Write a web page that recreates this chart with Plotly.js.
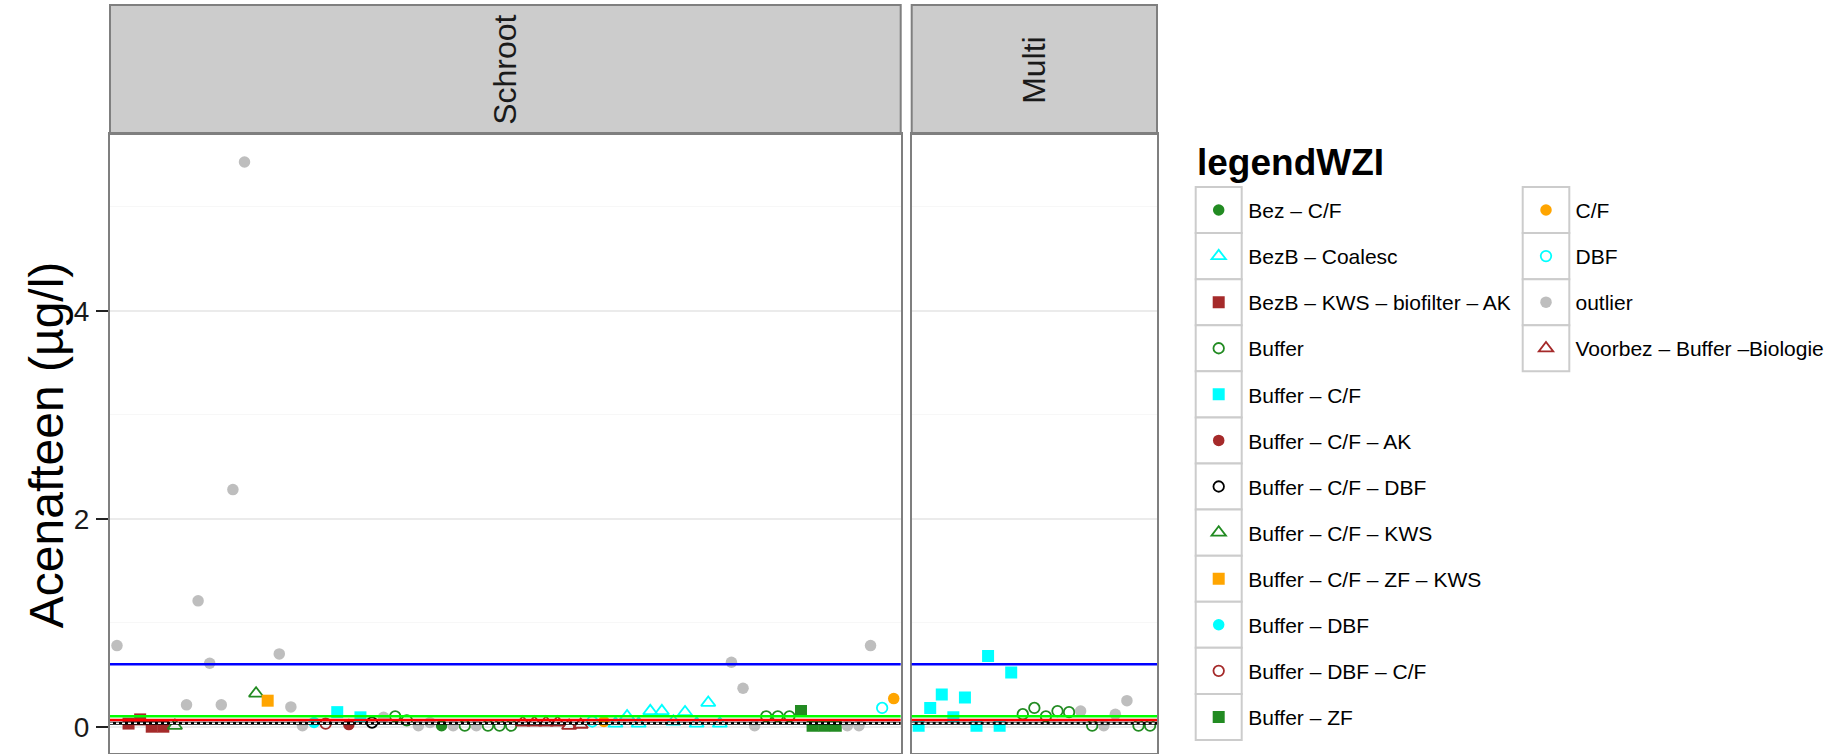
<!DOCTYPE html>
<html>
<head>
<meta charset="utf-8">
<script src="https://cdn.plot.ly/plotly-3.0.1.min.js"></script>
<style>
  html, body { margin: 0; padding: 0; background: #ffffff; }
  #chart { width: 1832px; height: 754px; }
</style>
</head>
<body>
<div id="chart"></div>
<script>
// ---------------- DATA ----------------
const legendTitle = 'legendWZI';
const legendNames = [
  'Bez – C/F', 'BezB – Coalesc', 'BezB – KWS – biofilter – AK', 'Buffer',
  'Buffer – C/F', 'Buffer – C/F – AK', 'Buffer – C/F – DBF', 'Buffer – C/F – KWS',
  'Buffer – C/F – ZF – KWS', 'Buffer – DBF', 'Buffer – DBF – C/F', 'Buffer – ZF',
  'C/F', 'DBF', 'outlier', 'Voorbez – Buffer –Biologie'
];
const legendColors = [
  '#228B22', '#00FFFF', '#A52A2A', '#228B22',
  '#00FFFF', '#A52A2A', '#000000', '#228B22',
  '#FFA500', '#00FFFF', '#A52A2A', '#228B22',
  '#FFA500', '#00FFFF', '#BEBEBE', '#A52A2A'
];
const legendSymbols = [
  'circle', 'triangle-up-open', 'square', 'circle-open',
  'square', 'circle', 'circle-open', 'triangle-up-open',
  'square', 'circle', 'circle-open', 'square',
  'circle', 'circle-open', 'circle', 'triangle-up-open'
];

const facetNames = ['Schroot', 'Multi'];

// Schroot facet: sample position, Acenafteen value (µg/l), legend group (index in legendNames)
const schrootIdx = [1,2,3,4,5,6,7,8,9,10,11,12,13,14,15,16,17,18,19,20,21,22,23,24,25,26,27,28,29,30,31,32,33,34,
  35,36,37,38,39,40,41,42,43,44,45,46,47,48,49,50,51,52,53,54,55,56,57,58,59,60,61,62,63,64,65,66,67,68];
const schrootVal = [0.78,0.03,0.07,0.00,0.00,0.01,0.21,1.21,0.61,0.21,2.28,5.43,0.32,0.25,0.70,0.19,0.01,0.04,0.03,0.14,
  0.02,0.09,0.04,0.09,0.10,0.06,0.01,0.04,0.01,0.01,0.01,0.01,0.01,0.01,0.01,0.04,0.04,0.04,0.04,0.01,
  0.02,0.05,0.05,0.03,0.10,0.03,0.15,0.15,0.05,0.14,0.03,0.23,0.03,0.62,0.37,0.01,0.10,0.10,0.10,0.15,
  0.01,0.01,0.01,0.01,0.01,0.78,0.18,0.27];
const schrootGrp = [14,2,2,2,2,7,14,14,14,14,14,14,7,8,14,14,14,9,10,4,
  5,4,6,14,3,3,14,14,0,14,3,14,3,3,3,15,15,15,15,15,
  15,13,12,1,1,1,1,1,1,1,1,1,1,14,14,14,3,3,3,11,
  11,11,11,14,14,14,13,12];

// Multi facet
const multiIdx = [1,2,3,4,5,6,7,8,9,10,11,12,13,14,15,16,17,18,19,20,21];
const multiVal = [0.01,0.18,0.31,0.09,0.28,0.01,0.68,0.01,0.52,0.12,0.18,0.10,0.15,0.14,0.15,0.01,0.01,0.12,0.25,0.01,0.01];
const multiGrp = [4,4,4,4,4,4,4,4,4,3,3,3,3,3,14,3,14,14,14,3,3];

// Reference lines (µg/l)
const refLineVals = [0.6, 0.1, 0.065, 0.033];
const refLineColors = ['#0000FF', '#00FF00', '#FF0000', '#000000'];

const yTickVals = [0, 2, 4];

// ---------------- LAYOUT HELPERS ----------------
const W = 1832, H = 754;
const px = v => v / W;          // pixel -> paper x
const py = v => 1 - v / H;      // pixel -> paper y
const FONT = 'Liberation Sans, Arial, Helvetica, sans-serif';

const markerSize = { 'circle': 11.5, 'square': 12, 'circle-open': 10.5, 'triangle-up-open': 12.5 };

function buildTraces(idx, val, grp, xa, ya, withLegend) {
  const out = [];
  legendNames.forEach((name, g) => {
    const xs = [], ys = [];
    idx.forEach((ix, k) => { if (grp[k] === g) { xs.push(ix); ys.push(val[k]); } });
    if (!xs.length) return;
    const sym = legendSymbols[g];
    const open = sym.endsWith('-open');
    out.push({
      type: 'scatter', mode: 'markers', name: name,
      x: xs, y: ys, xaxis: xa, yaxis: ya,
      legendgroup: name, showlegend: withLegend,
      legend: g >= 12 ? 'legend2' : 'legend',
      hoverinfo: 'x+y+name',
      marker: {
        symbol: sym, color: legendColors[g], size: markerSize[sym],
        line: { width: open ? 1.8 : 0, color: legendColors[g] }
      }
    });
  });
  return out;
}

const traces = [
  ...buildTraces(schrootIdx, schrootVal, schrootGrp, 'x', 'y', true),
  ...buildTraces(multiIdx, multiVal, multiGrp, 'x2', 'y2', false)
];

// ---------------- SHAPES ----------------
const shapes = [];
const stripTop = 5, stripBottom = 134;
['x', 'x2'].forEach((xa, f) => {
  shapes.push({
    type: 'rect', xref: xa + ' domain', yref: 'paper', x0: 0, x1: 1,
    y0: py(stripBottom), y1: py(stripTop),
    fillcolor: '#cccccc', line: { color: '#7f7f7f', width: 2 }, layer: 'below'
  });
  const ya = f === 0 ? 'y' : 'y2';
  refLineVals.forEach((v, k) => {
    shapes.push({
      type: 'line', xref: xa + ' domain', yref: ya, x0: 0, x1: 1, y0: v, y1: v,
      line: { color: refLineColors[k], width: k === 3 ? 3 : 2.6 }, layer: 'above'
    });
  });
  // white dots over the black reference line
  shapes.push({
    type: 'line', xref: xa + ' domain', yref: ya, x0: 0, x1: 1,
    y0: refLineVals[3], y1: refLineVals[3],
    line: { color: '#ffffff', width: 1.5, dash: 'dot' }, layer: 'above'
  });
});

// legend key boxes
const keyH = 46.08, keyTop = 187;
for (let i = 0; i < 12; i++) {
  shapes.push({ type: 'rect', xref: 'paper', yref: 'paper',
    x0: px(1195.7), x1: px(1241.7), y0: py(keyTop + keyH * (i + 1)), y1: py(keyTop + keyH * i),
    fillcolor: '#ffffff', line: { color: '#cccccc', width: 2 }, layer: 'below' });
}
for (let i = 0; i < 4; i++) {
  shapes.push({ type: 'rect', xref: 'paper', yref: 'paper',
    x0: px(1522.7), x1: px(1569.3), y0: py(keyTop + keyH * (i + 1)), y1: py(keyTop + keyH * i),
    fillcolor: '#ffffff', line: { color: '#cccccc', width: 2 }, layer: 'below' });
}

// ---------------- ANNOTATIONS ----------------
const annotations = [
  { text: 'Acenafteen (µg/l)', xref: 'paper', yref: 'paper', x: px(46.7), y: py(444.5),
    xanchor: 'center', yanchor: 'middle', textangle: -90, showarrow: false,
    font: { family: FONT, size: 48, color: '#000000' } },
  { text: '<b>' + legendTitle + '</b>', xref: 'paper', yref: 'paper', x: px(1195), y: py(162.2),
    xanchor: 'left', yanchor: 'middle', showarrow: false,
    font: { family: FONT, size: 37, color: '#000000' } }
];
['x', 'x2'].forEach((xa, f) => {
  annotations.push({
    text: facetNames[f], xref: xa + ' domain', yref: 'paper', x: 0.5, y: py(69.5),
    xanchor: 'center', yanchor: 'middle', textangle: -90, showarrow: false,
    font: { family: FONT, size: 32, color: '#1a1a1a' }
  });
});

const yDomain = [py(753), py(134)];
const yRange = [-0.253, 5.699];

const commonX = {
  showgrid: false, zeroline: false, showticklabels: false, ticks: '',
  showline: true, mirror: true, linecolor: '#7f7f7f', linewidth: 2
};
const commonY = {
  range: yRange, domain: yDomain, zeroline: false,
  tick0: 0, dtick: 2,
  showgrid: true, gridcolor: '#ebebeb', gridwidth: 2,
  minor: { tick0: 0, dtick: 1, showgrid: true, gridcolor: '#f7f7f7', gridwidth: 1.3, ticks: '' },
  showline: true, mirror: true, linecolor: '#7f7f7f', linewidth: 2
};

const legendCommon = {
  xanchor: 'left', yanchor: 'top',
  bgcolor: 'rgba(0,0,0,0)', borderwidth: 0,
  itemwidth: 49, tracegroupgap: 15.78, itemclick: false, itemdoubleclick: false,
  font: { family: FONT, size: 21, color: '#000000' }
};

const layout = {
  width: W, height: H,
  margin: { l: 0, r: 0, t: 0, b: 0, pad: 0 },
  paper_bgcolor: '#ffffff', plot_bgcolor: '#ffffff',
  font: { family: FONT, color: '#000000' },
  xaxis: Object.assign({}, commonX, { domain: [px(110), px(900.7)], range: [0.4, 68.6], anchor: 'y' }),
  xaxis2: Object.assign({}, commonX, { domain: [px(911.7), px(1157)], range: [0.4, 21.6], anchor: 'y2' }),
  yaxis: Object.assign({}, commonY, {
    anchor: 'x', tickvals: yTickVals, ticktext: yTickVals.map(String),
    ticks: 'outside', ticklen: 12, tickwidth: 2, tickcolor: '#222222',
    ticklabelstandoff: 1,
    tickfont: { family: FONT, size: 28, color: '#1a1a1a' }
  }),
  yaxis2: Object.assign({}, commonY, {
    anchor: 'x2', matches: 'y', showticklabels: false, ticks: ''
  }),
  showlegend: true,
  legend: Object.assign({}, legendCommon, { x: px(1189.2), y: py(189.85) }),
  legend2: Object.assign({}, legendCommon, { x: px(1516.5), y: py(189.85) }),
  shapes: shapes,
  annotations: annotations
};

Plotly.newPlot('chart', traces, layout, { displayModeBar: false, responsive: false });
</script>
</body>
</html>
